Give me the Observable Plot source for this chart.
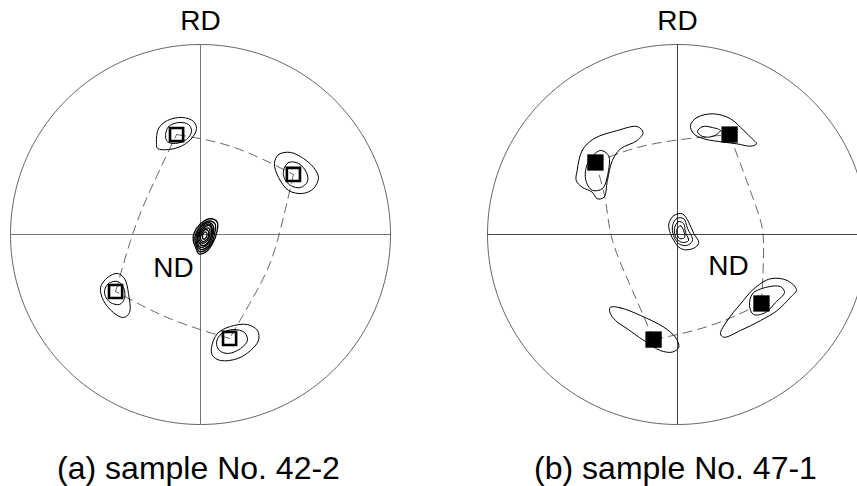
<!DOCTYPE html>
<html>
<head>
<meta charset="utf-8">
<script src="https://cdn.jsdelivr.net/npm/d3@7"></script>
<script src="https://cdn.jsdelivr.net/npm/@observablehq/plot@0.6"></script>
<style>
  html, body { margin: 0; padding: 0; background: #fff; }
  #wrap { display: flex; width: 857px; height: 486px; overflow: hidden; background: #fff; }
  #wrap > svg { flex: none; max-width: none; }
</style>
</head>
<body>
<div id="wrap"></div>
<script>
// ---------- DATA (pole-figure coordinates, radius = 1) ----------
const captions = ["(a) sample No. 42-2", "(b) sample No. 47-1"];
const rdLabel = "RD";
const ndLabel = "ND";
const rdPos = [0, 1];
const ndPosA = [-0.142, -0.225];
const ndPosB = [0.268, -0.211];

// {100} poles (TL, TR, BR, BL)
const squaresA = [[-0.126, 0.526], [0.489, 0.316], [0.153, -0.547], [-0.447, -0.300]];
const squaresB = [[-0.432, 0.379], [0.274, 0.526], [0.442, -0.363], [-0.126, -0.553]];

// dashed great-circle traces between poles
const arcsA = [
  [[-0.126, 0.526], [0.175, 0.459], [0.489, 0.316]],
  [[0.489, 0.316], [0.405, -0.032], [0.316, -0.259], [0.153, -0.547]],
  [[0.153, -0.547], [-0.158, -0.444], [-0.447, -0.300]],
  [[-0.447, -0.300], [-0.368, -0.032], [-0.281, 0.196], [-0.126, 0.526]]
];
const arcsB = [
  [[-0.432, 0.379], [-0.142, 0.474], [0.274, 0.526]],
  [[0.274, 0.526], [0.411, 0.153], [0.453, -0.047], [0.442, -0.363]],
  [[0.442, -0.363], [0.174, -0.479], [-0.126, -0.553]],
  [[-0.126, -0.553], [-0.237, -0.295], [-0.342, -0.032], [-0.379, 0.179], [-0.432, 0.379]]
];

// intensity contours, sample 42-2
const contoursA = [
  [[-0.232,0.484],[-0.221,0.558],[-0.174,0.600],[-0.095,0.616],[-0.037,0.595],[-0.021,0.558],[-0.042,0.511],[-0.095,0.468],[-0.168,0.447],[-0.226,0.453]],
  [[-0.184,0.521],[-0.168,0.568],[-0.116,0.589],[-0.063,0.579],[-0.047,0.542],[-0.074,0.500],[-0.132,0.479],[-0.174,0.489]],
  [[0.389,0.374],[0.411,0.421],[0.474,0.432],[0.542,0.400],[0.595,0.353],[0.621,0.300],[0.595,0.242],[0.537,0.216],[0.463,0.232],[0.411,0.300]],
  [[0.437,0.337],[0.463,0.379],[0.516,0.374],[0.558,0.326],[0.563,0.279],[0.526,0.247],[0.474,0.258],[0.442,0.295]],
  [[-0.505,-0.295],[-0.484,-0.258],[-0.437,-0.247],[-0.405,-0.279],[-0.400,-0.337],[-0.426,-0.368],[-0.474,-0.358],[-0.500,-0.326]],
  [[-0.526,-0.279],[-0.489,-0.226],[-0.437,-0.205],[-0.400,-0.232],[-0.379,-0.311],[-0.374,-0.411],[-0.405,-0.437],[-0.458,-0.411],[-0.511,-0.347]],
  [[0.058,-0.595],[0.089,-0.521],[0.158,-0.484],[0.247,-0.474],[0.300,-0.505],[0.305,-0.558],[0.263,-0.611],[0.195,-0.653],[0.105,-0.663],[0.063,-0.637]],
  [[0.084,-0.568],[0.111,-0.521],[0.174,-0.500],[0.232,-0.516],[0.247,-0.558],[0.211,-0.600],[0.147,-0.626],[0.100,-0.611]]
];
// dense centre (ND) rings, sample 42-2
const centreA = [
  [[-0.035,0.004],[0.000,0.056],[0.053,0.083],[0.088,0.065],[0.088,0.021],[0.062,-0.049],[0.026,-0.093],[-0.009,-0.102],[-0.026,-0.067],[-0.038,-0.032]],
  [[-0.026,0.002],[0.003,0.048],[0.049,0.071],[0.077,0.055],[0.076,0.012],[0.052,-0.055],[0.020,-0.086],[-0.006,-0.090],[-0.022,-0.058],[-0.030,-0.028]],
  [[-0.021,0.000],[0.005,0.042],[0.047,0.063],[0.068,0.042],[0.063,-0.011],[0.037,-0.063],[0.000,-0.079],[-0.021,-0.047]],
  [[-0.015,-0.002],[0.010,0.036],[0.046,0.054],[0.062,0.030],[0.052,-0.025],[0.024,-0.062],[-0.004,-0.066],[-0.016,-0.040]],
  [[-0.011,-0.005],[0.016,0.032],[0.047,0.047],[0.058,0.016],[0.042,-0.037],[0.011,-0.058],[-0.011,-0.037]],
  [[-0.004,-0.003],[0.020,0.028],[0.044,0.034],[0.050,0.010],[0.038,-0.030],[0.012,-0.046],[-0.006,-0.030]],
  [[0.005,0.000],[0.026,0.026],[0.042,0.016],[0.037,-0.021],[0.011,-0.037],[0.000,-0.021]],
  [[0.012,0.000],[0.026,0.014],[0.034,0.004],[0.028,-0.018],[0.014,-0.024]]
];

// intensity contours, sample 47-1
const contoursB = [
  [[-0.528,0.337],[-0.502,0.442],[-0.440,0.504],[-0.317,0.547],[-0.212,0.568],[-0.181,0.538],[-0.212,0.495],[-0.300,0.451],[-0.343,0.389],[-0.369,0.284],[-0.387,0.196],[-0.422,0.188],[-0.449,0.223],[-0.502,0.249],[-0.533,0.284]],
  [[-0.484,0.337],[-0.458,0.400],[-0.405,0.442],[-0.363,0.416],[-0.368,0.311],[-0.395,0.242],[-0.447,0.232],[-0.479,0.274]],
  [[0.068,0.574],[0.104,0.617],[0.191,0.635],[0.279,0.609],[0.349,0.547],[0.393,0.504],[0.416,0.477],[0.384,0.465],[0.314,0.477],[0.244,0.486],[0.138,0.504],[0.086,0.530]],
  [[0.105,0.542],[0.132,0.568],[0.184,0.563],[0.226,0.547],[0.184,0.516],[0.132,0.516]],
  [[0.226,-0.523],[0.262,-0.453],[0.332,-0.365],[0.402,-0.286],[0.489,-0.233],[0.577,-0.242],[0.626,-0.291],[0.595,-0.330],[0.525,-0.400],[0.437,-0.453],[0.332,-0.505],[0.244,-0.541]],
  [[0.379,-0.374],[0.395,-0.311],[0.463,-0.279],[0.542,-0.274],[0.563,-0.305],[0.516,-0.358],[0.463,-0.411],[0.400,-0.421]],
  [[-0.353,-0.383],[-0.300,-0.386],[-0.195,-0.426],[-0.072,-0.488],[-0.011,-0.541],[0.007,-0.593],[-0.028,-0.619],[-0.089,-0.611],[-0.177,-0.558],[-0.265,-0.496],[-0.326,-0.453],[-0.356,-0.409]]
];
// centre (ND) rings, sample 47-1
const centreB = [
  [[-0.046,0.056],[-0.019,0.100],[0.025,0.109],[0.059,0.065],[0.086,0.004],[0.112,-0.041],[0.095,-0.067],[0.042,-0.081],[0.007,-0.067],[-0.019,-0.032],[-0.037,0.004]],
  [[-0.026,0.047],[-0.005,0.084],[0.032,0.084],[0.053,0.032],[0.079,-0.032],[0.047,-0.058],[0.005,-0.047],[-0.021,-0.005]],
  [[-0.016,0.032],[0.005,0.068],[0.032,0.058],[0.042,0.011],[0.058,-0.032],[0.026,-0.042],[-0.005,-0.021]],
  [[-0.005,0.021],[0.016,0.047],[0.032,0.021],[0.037,-0.016],[0.011,-0.021]]
];

// ---------- DRAWING ----------
// primitive (projection boundary) circle
const primitive = d3.range(0, 361, 2).map(a => [Math.cos(a * Math.PI / 180), Math.sin(a * Math.PI / 180)]);
const flat = (arr) => arr.flatMap((pts, i) => pts.map(p => ({x: p[0], y: p[1], id: i})));
const font = "'Liberation Sans', Arial, Helvetica, sans-serif";

function panel({width, xRange, squares, filled, arcs, contours, centre, centreWidth, ndPos, caption, lineColor}) {
  return Plot.plot({
    width, height: 486,
    margin: 0,
    x: {domain: [-1, 1], range: xRange, axis: null},
    y: {domain: [-1, 1], range: [424, 44], axis: null},
    style: {fontFamily: font, background: "#fff", overflow: "hidden"},
    marks: [
      Plot.line(primitive, {x: d => d[0], y: d => d[1], stroke: "#555", strokeWidth: 0.9}),
      Plot.ruleX([0], {y1: -1, y2: 1, stroke: lineColor, strokeWidth: 1}),
      Plot.ruleY([0], {x1: -1, x2: 1, stroke: lineColor, strokeWidth: 1}),
      Plot.line(flat(arcs), {x: "x", y: "y", z: "id", curve: "natural", stroke: "#555", strokeWidth: 0.9, strokeDasharray: "9,6"}),
      Plot.line(flat(contours), {x: "x", y: "y", z: "id", curve: "catmull-rom-closed", stroke: "#000", strokeWidth: 1}),
      Plot.line(flat(centre), {x: "x", y: "y", z: "id", curve: "catmull-rom-closed", stroke: "#000", strokeWidth: centreWidth}),
      filled
        ? Plot.dot(squares, {x: d => d[0], y: d => d[1], symbol: "square", r: 9.2, fill: "#000", stroke: "none"})
        : Plot.dot(squares, {x: d => d[0], y: d => d[1], symbol: "square", r: 7.4, fill: "none", stroke: "#000", strokeWidth: 2.6}),
      Plot.text([{x: rdPos[0], y: rdPos[1], t: rdLabel}], {x: "x", y: "y", text: "t", dy: -15, lineAnchor: "bottom", fontSize: 28, fill: "#000"}),
      Plot.text([{x: ndPos[0], y: ndPos[1], t: ndLabel}], {x: "x", y: "y", text: "t", lineAnchor: "bottom", fontSize: 28, fill: "#000"}),
      Plot.text([{x: 0, y: -1, t: caption}], {x: "x", y: "y", text: "t", dx: -2, dy: 54, lineAnchor: "bottom", fontSize: 32, fill: "#000"})
    ]
  });
}

const wrap = document.getElementById("wrap");
wrap.append(panel({width: 428, xRange: [10, 390], squares: squaresA, filled: false, arcs: arcsA, contours: contoursA, centre: centreA, centreWidth: 1.3, ndPos: ndPosA, caption: captions[0], lineColor: "#777"}));
wrap.append(panel({width: 429, xRange: [59, 439], squares: squaresB, filled: true, arcs: arcsB, contours: contoursB, centre: centreB, centreWidth: 1, ndPos: ndPosB, caption: captions[1], lineColor: "#444"}));
</script>
</body>
</html>
